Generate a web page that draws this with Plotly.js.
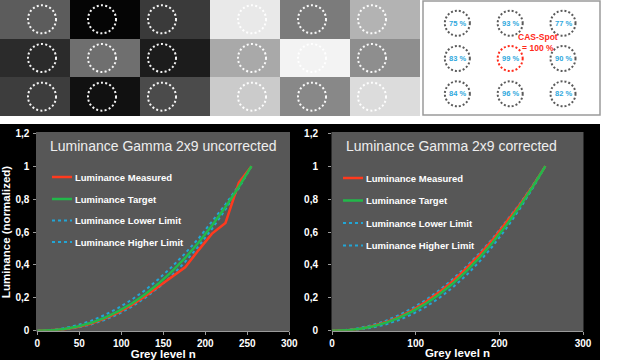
<!DOCTYPE html>
<html>
<head>
<meta charset="utf-8">
<script src="https://cdn.plot.ly/plotly-3.0.1.min.js"></script>
<style>html,body{margin:0;padding:0;background:#fff;}#chart{width:640px;height:360px;}</style>
</head>
<body>
<div id="chart"></div>
<script>
// ---------- data ----------
const greyLevels = [0,16,32,48,64,80,96,112,128,144,160,176,192,208,224,240,255];
const targetLum = [0,0.002,0.010,0.025,0.048,0.078,0.117,0.164,0.220,0.285,0.359,0.442,0.536,0.639,0.752,0.875,1];
const lowerLimit = [0,0.001,0.007,0.019,0.038,0.065,0.100,0.144,0.198,0.261,0.334,0.418,0.513,0.619,0.737,0.867,1];
const higherLimit = [0,0.004,0.015,0.034,0.060,0.095,0.137,0.187,0.245,0.312,0.387,0.470,0.561,0.661,0.768,0.884,1];
const measuredUncorrected = [0,0.002,0.009,0.023,0.044,0.073,0.110,0.155,0.208,0.268,0.330,0.385,0.490,0.590,0.655,0.900,1];
const measuredCorrected = [0,0.002,0.011,0.027,0.051,0.083,0.124,0.174,0.233,0.300,0.376,0.460,0.552,0.654,0.763,0.880,1];
const seriesNames = ['Luminance Measured','Luminance Target','Luminance Lower Limit','Luminance Higher Limit'];
const chartTitles = ['Luminance Gamma 2x9 uncorrected','Luminance Gamma 2x9 corrected'];
const xTitle = 'Grey level n';
const yTitle = 'Luminance (normalized)';
// grey test patches (grey value 0-255), 3 rows x 6 columns
const patchGrey = [
  [92, 5, 58, 233, 123, 179],
  [43, 111, 28, 169, 243, 142],
  [61, 17, 75, 203, 136, 220]
];
// spot uniformity (%), 3 x 3
const spotPercent = [[75, 93, 77],[83, 99, 90],[84, 96, 82]];
const casLabel = 'CAS-Spot<br>= 100 %';

// ---------- styles ----------
const FONT = 'Liberation Sans, Arial, sans-serif';
const RED = '#ff3a1e', GREEN = '#22b84a', CYAN = '#22a6d6';
const W = 640, H = 360;
const px = v => v / W, py = v => 1 - v / H;

const seriesStyle = [
  {color: RED, width: 2.5, dash: 'solid'},
  {color: GREEN, width: 2.5, dash: 'solid'},
  {color: CYAN, width: 2, dash: 'dot'},
  {color: CYAN, width: 2, dash: 'dot'}
];

const traces = [];
traces.push({
  type: 'heatmap', z: patchGrey, xaxis: 'x', yaxis: 'y',
  zmin: 0, zmax: 255, colorscale: [[0, '#000000'], [1, '#ffffff']],
  showscale: false, hoverinfo: 'skip'
});
traces.push({type: 'scatter', x: [0], y: [0], xaxis: 'x2', yaxis: 'y2', mode: 'markers', marker: {opacity: 0}, showlegend: false, hoverinfo: 'skip'});

const chartSeries = [
  [measuredUncorrected, targetLum, lowerLimit, higherLimit],
  [measuredCorrected, targetLum, lowerLimit, higherLimit]
];
const drawOrder = [2, 3, 0, 1];
chartSeries.forEach((set, ci) => {
  drawOrder.forEach(si => {
    traces.push({
      type: 'scatter', mode: 'lines', x: greyLevels, y: set[si],
      xaxis: ci === 0 ? 'x3' : 'x4', yaxis: ci === 0 ? 'y3' : 'y4',
      name: seriesNames[si], showlegend: false,
      line: {color: seriesStyle[si].color, width: seriesStyle[si].width, dash: seriesStyle[si].dash}
    });
  });
});

const shapes = [];
shapes.push({type: 'rect', xref: 'paper', yref: 'paper', x0: 0, x1: px(600), y0: 0, y1: py(124), fillcolor: '#000000', line: {width: 0}, layer: 'below'});
[[36, 290], [331.5, 583.5]].forEach(([a, b]) => {
  shapes.push({type: 'rect', xref: 'paper', yref: 'paper', x0: px(a), x1: px(b), y0: py(331.5), y1: py(132), fillcolor: '#575757', line: {width: 0}, layer: 'below'});
});
shapes.push({type: 'rect', xref: 'paper', yref: 'paper', x0: px(423), x1: px(600), y0: py(115), y1: py(1), fillcolor: '#ffffff', line: {color: '#9a9a9a', width: 1.5}, layer: 'below'});

const spotStep = 6 / 7;
patchGrey.forEach((row, r) => {
  for (let g = 0; g < 2; g++) {
    for (let k = 0; k < 3; k++) {
      shapes.push({
        type: 'circle', xref: 'x', yref: 'y', xsizemode: 'pixel', ysizemode: 'pixel',
        xanchor: g * 3 + 0.1 + k * spotStep, yanchor: r,
        x0: -14, x1: 14, y0: -14, y1: 14,
        line: {color: 'rgba(255,255,255,0.95)', width: 2, dash: '2px,2.3px'}
      });
    }
  }
});
const annotations = [];
spotPercent.forEach((row, r) => {
  row.forEach((p, c) => {
    const center = (r === 1 && c === 1);
    shapes.push({
      type: 'circle', xref: 'x2', yref: 'y2', xsizemode: 'pixel', ysizemode: 'pixel',
      xanchor: c, yanchor: r, x0: -12.5, x1: 12.5, y0: -12.5, y1: 12.5,
      line: {color: center ? '#ff2a1a' : '#5a5a5a', width: 2, dash: '2px,2px'}
    });
    annotations.push({
      xref: 'x2', yref: 'y2', x: c, y: r, xanchor: 'center', yanchor: 'middle', text: p + ' %', showarrow: false,
      font: {family: FONT, size: 7.5, color: '#2fa8dd', weight: 'bold'}
    });
  });
});
annotations.push({
  xref: 'paper', yref: 'paper', x: px(538), y: py(42), xanchor: 'center', yanchor: 'middle', text: casLabel, showarrow: false,
  font: {family: FONT, size: 8.5, color: '#ff2a1a', weight: 'bold'}, align: 'center'
});

[[162.5, 0], [451, 1]].forEach(([cx, i]) => {
  annotations.push({
    xref: 'paper', yref: 'paper', x: px(cx), y: py(146), xanchor: 'center', yanchor: 'middle', text: chartTitles[i], showarrow: false,
    font: {family: FONT, size: 14, color: '#eeeeee'}
  });
});
const legendPos = [
  {x: 52, ys: [177, 199, 220.5, 242]},
  {x: 343, ys: [178, 200.5, 223, 245.5]}
];
legendPos.forEach(lp => {
  seriesNames.forEach((n, i) => {
    const st = seriesStyle[i];
    shapes.push({
      type: 'line', xref: 'paper', yref: 'paper', x0: px(lp.x), x1: px(lp.x + 20), y0: py(lp.ys[i]), y1: py(lp.ys[i]),
      line: {color: st.color, width: st.width, dash: st.dash}
    });
    annotations.push({
      xref: 'paper', yref: 'paper', x: px(lp.x + 21), y: py(lp.ys[i]), xanchor: 'left', yanchor: 'middle',
      text: n, showarrow: false, font: {family: FONT, size: 9.5, color: '#ffffff', weight: 'bold'}
    });
  });
});

const tickFont = {family: FONT, size: 10, color: '#ffffff', weight: 'bold'};
const titleFont = {family: FONT, size: 11.5, color: '#ffffff', weight: 'bold'};
const hidden = {visible: false, fixedrange: true};
function xAxisBottom(domain, dtick) {
  return {
    domain: domain, range: [0, 300], dtick: dtick, tick0: 0, showgrid: false, zeroline: false,
    showline: true, linecolor: '#9a9a9a', linewidth: 1, ticks: 'outside', ticklen: 3, tickcolor: '#9a9a9a',
    tickfont: tickFont, title: {text: xTitle, font: titleFont, standoff: 1}, fixedrange: true
  };
}
function yAxisBottom(anchor, withTitle, standoff) {
  return {
    domain: [py(330.7), py(133.3)], range: [0, 1.2], dtick: 0.2, tick0: 0, showgrid: false, zeroline: false,
    showline: false, ticks: 'outside', ticklen: 3, tickcolor: '#9a9a9a', tickfont: tickFont,
    ticklabelstandoff: standoff, anchor: anchor,
    title: withTitle ? {text: yTitle, font: titleFont, standoff: 4} : {text: ''}, fixedrange: true
  };
}

const layout = {
  width: W, height: H, margin: {l: 0, r: 0, t: 0, b: 0},
  paper_bgcolor: '#ffffff', plot_bgcolor: 'rgba(0,0,0,0)',
  separators: ', ', showlegend: false, font: {family: FONT},
  xaxis: Object.assign({domain: [0, px(420)], range: [-0.5, 5.5], anchor: 'y'}, hidden),
  yaxis: Object.assign({domain: [py(116), 1], range: [2.5, -0.5], anchor: 'x'}, hidden),
  xaxis2: Object.assign({domain: [px(423), px(600)], range: [-0.65, 2.7], anchor: 'y2'}, hidden),
  yaxis2: Object.assign({domain: [py(115), py(1)], range: [2.6, -0.63], anchor: 'x2'}, hidden),
  xaxis3: Object.assign(xAxisBottom([px(37.3), px(289.3)], 50), {anchor: 'y3'}),
  yaxis3: yAxisBottom('x3', true, 2),
  xaxis4: Object.assign(xAxisBottom([px(332), px(583)], 100), {anchor: 'y4'}),
  yaxis4: yAxisBottom('x4', false, 8),
  shapes: shapes, annotations: annotations
};

Plotly.newPlot('chart', traces, layout, {displayModeBar: false, staticPlot: true});
</script>
</body>
</html>
